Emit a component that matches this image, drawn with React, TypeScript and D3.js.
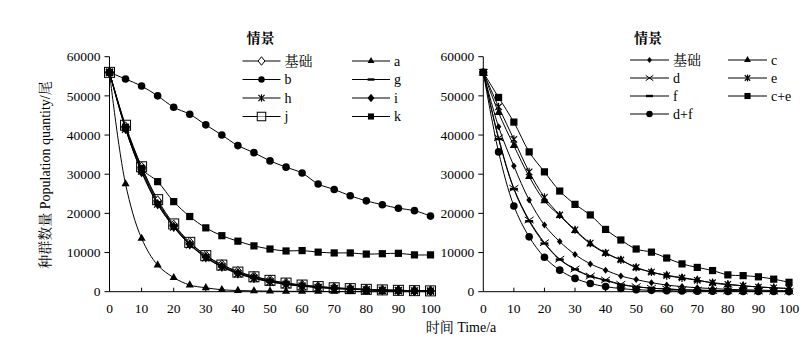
import * as d3 from 'd3';
import React from 'react';

// time points (years)
const years = [0, 5, 10, 15, 20, 25, 30, 35, 40, 45, 50, 55, 60, 65, 70, 75, 80, 85, 90, 95, 100];
const yTicks = [0, 10000, 20000, 30000, 40000, 50000, 60000];
const xTicks = [0, 10, 20, 30, 40, 50, 60, 70, 80, 90, 100];

// left panel scenarios
const baseLeft = [56000, 42100, 31800, 23200, 17000, 12600, 9300, 6900, 5200, 3900, 3000, 2200, 1700, 1300, 1000, 780, 600, 460, 350, 270, 210];
const aVals = [56000, 27500, 13600, 6800, 3600, 1700, 1000, 500, 300, 200, 150, 100, 80, 60, 50, 40, 30, 25, 20, 15, 10];
const bVals = [56000, 54300, 52500, 50000, 47100, 45300, 42600, 40000, 37300, 35500, 33400, 31800, 30300, 27500, 26100, 24500, 23200, 22200, 21300, 20700, 19300];
const gVals = [56000, 42000, 31300, 22800, 16800, 12200, 8800, 6400, 4700, 3500, 2600, 1950, 1450, 1100, 850, 650, 500, 380, 290, 220, 170];
const hVals = [56000, 41500, 30800, 22400, 16500, 12000, 8700, 6300, 4600, 3400, 2500, 1850, 1400, 1050, 800, 600, 460, 350, 270, 200, 150];
const iVals = [56000, 41600, 30500, 22300, 16600, 12100, 8900, 6500, 4800, 3600, 2700, 2000, 1500, 1150, 880, 680, 520, 400, 300, 230, 180];
const jVals = [56000, 42500, 31900, 23500, 17300, 12600, 9200, 6800, 5000, 3800, 2900, 2200, 1700, 1300, 1000, 780, 600, 460, 350, 270, 210];
const kVals = [56000, 42000, 31500, 28100, 23000, 19200, 16300, 14300, 12900, 11700, 10900, 10400, 10500, 10100, 9900, 9900, 9600, 9700, 9800, 9400, 9400];

// right panel scenarios
const baseRight = [56000, 42100, 32100, 23400, 17000, 12800, 9500, 7100, 5500, 4000, 3100, 2300, 1700, 1300, 1000, 800, 600, 500, 400, 300, 250];
const cVals = [56000, 45700, 37300, 29400, 23200, 19400, 15600, 12200, 9800, 8100, 6100, 5000, 4200, 3600, 3000, 2200, 1800, 1500, 1200, 1000, 800];
const dVals = [56000, 39300, 26400, 18300, 12500, 8300, 5800, 4000, 3000, 1900, 1300, 900, 700, 500, 400, 300, 250, 200, 150, 120, 100];
const eVals = [56000, 47200, 38900, 30600, 24100, 19600, 15800, 12400, 9900, 8100, 6200, 5000, 4100, 3500, 2900, 2300, 1900, 1500, 1200, 1000, 800];
const fVals = [56000, 39000, 26200, 18000, 12300, 8200, 5700, 3900, 2900, 1800, 1250, 880, 680, 490, 390, 290, 240, 190, 140, 110, 90];
const ceVals = [56000, 49600, 43300, 35700, 30600, 25700, 22300, 19600, 15900, 13200, 10900, 10100, 8600, 7100, 6200, 5400, 4300, 4100, 3800, 3200, 2400];
const dfVals = [56000, 35700, 21900, 14000, 8800, 5500, 3400, 2100, 1300, 800, 500, 350, 250, 180, 130, 100, 80, 60, 50, 40, 30];

type Mk = 'diamondOpen' | 'diamond' | 'circle' | 'triangle' | 'dash' | 'asterisk' | 'cross' | 'squareOpen' | 'square';
type Series = { name: string; vals: number[]; mk: Mk; size: number; z: number };

// z = drawing order (legend order stays as listed)
const leftSeries: Series[] = [
  { name: '基础', vals: baseLeft, mk: 'diamondOpen', size: 10, z: 1 },
  { name: 'a', vals: aVals, mk: 'triangle', size: 8, z: 2 },
  { name: 'b', vals: bVals, mk: 'circle', size: 8, z: 2 },
  { name: 'g', vals: gVals, mk: 'dash', size: 8, z: 3 },
  { name: 'h', vals: hVals, mk: 'asterisk', size: 9, z: 3 },
  { name: 'i', vals: iVals, mk: 'diamond', size: 10, z: 4 },
  { name: 'j', vals: jVals, mk: 'squareOpen', size: 10, z: 0 },
  { name: 'k', vals: kVals, mk: 'square', size: 8, z: 5 },
];

const rightSeries: Series[] = [
  { name: '基础', vals: baseRight, mk: 'diamond', size: 7, z: 1 },
  { name: 'c', vals: cVals, mk: 'triangle', size: 8, z: 1 },
  { name: 'd', vals: dVals, mk: 'cross', size: 9, z: 1 },
  { name: 'e', vals: eVals, mk: 'asterisk', size: 8, z: 1 },
  { name: 'f', vals: fVals, mk: 'dash', size: 8, z: 1 },
  { name: 'c+e', vals: ceVals, mk: 'square', size: 8, z: 1 },
  { name: 'd+f', vals: dfVals, mk: 'circle', size: 8, z: 1 },
];

const font = "'Liberation Serif', 'Noto Serif CJK SC', 'Noto Sans CJK SC', serif";

function Marker({ mk, x, y, s }: { mk: Mk; x: number; y: number; s: number }) {
  const h = s / 2;
  const t = `translate(${x},${y})`;
  switch (mk) {
    case 'circle':
      return <circle cx={x} cy={y} r={h * 0.95} fill="#000" />;
    case 'square':
      return <rect x={x - h * 0.9} y={y - h * 0.9} width={s * 0.9} height={s * 0.9} fill="#000" />;
    case 'squareOpen':
      return <rect x={x - h} y={y - h} width={s} height={s} fill="#fff" fillOpacity={0.6} stroke="#000" strokeWidth={1} />;
    case 'triangle':
      return <path transform={t} d={d3.symbol(d3.symbolTriangle, s * s * 0.45)()!} fill="#000" />;
    case 'diamond':
      return <path transform={t} d={`M0,${-h}L${h * 0.8},0L0,${h}L${-h * 0.8},0Z`} fill="#000" />;
    case 'diamondOpen':
      return <path transform={t} d={`M0,${-h}L${h * 0.8},0L0,${h}L${-h * 0.8},0Z`} fill="#fff" stroke="#000" strokeWidth={1} />;
    case 'dash':
      return <rect x={x - h} y={y - 1.2} width={s} height={2.4} fill="#000" />;
    case 'cross':
      return <path transform={t} d={`M${-h},${-h * 0.7}L${h},${h * 0.7}M${-h},${h * 0.7}L${h},${-h * 0.7}`} stroke="#000" strokeWidth={1} fill="none" />;
    case 'asterisk':
      return <path transform={t} d={`M${-h * 0.8},${-h * 0.8}L${h * 0.8},${h * 0.8}M${-h * 0.8},${h * 0.8}L${h * 0.8},${-h * 0.8}M0,${-h}L0,${h}`} stroke="#000" strokeWidth={1.2} fill="none" />;
  }
  return null;
}

function Panel({ series, x0, x1 }: { series: Series[]; x0: number; x1: number }) {
  const x = d3.scaleLinear().domain([0, 100]).range([x0, x1]);
  const y = d3.scaleLinear().domain([0, 60000]).range([291.7, 56.7]);
  const line = d3.line<number>()
    .x((_, i) => x(years[i]))
    .y(d => y(d))
    .curve(d3.curveCatmullRom.alpha(0.5));
  const ordered = [...series].sort((p, q) => p.z - q.z);
  return (
    <g>
      {ordered.map(s => (
        <g key={s.name}>
          <path d={line(s.vals)!} fill="none" stroke="#000" strokeWidth={1} />
          {s.vals.map((v, i) => (
            <Marker key={i} mk={s.mk} x={x(years[i])} y={y(v)} s={s.size} />
          ))}
        </g>
      ))}
      <line x1={x0} x2={x0} y1={y(0)} y2={y(60000)} stroke="#000" />
      <line x1={x0} x2={x1} y1={y(0)} y2={y(0)} stroke="#000" />
      {yTicks.map(t => (
        <g key={t}>
          <line x1={x0 - 5} x2={x0} y1={y(t)} y2={y(t)} stroke="#000" />
          <text x={x0 - 9} y={y(t)} dy="0.35em" textAnchor="end" fontSize={13.5} fontFamily={font}>{t}</text>
        </g>
      ))}
      {xTicks.map(t => (
        <g key={t}>
          {t > 0 && <line x1={x(t)} x2={x(t)} y1={y(0)} y2={y(0) - 4} stroke="#000" />}
          <text x={x(t)} y={313} textAnchor="middle" fontSize={13.5} fontFamily={font}>{t}</text>
        </g>
      ))}
    </g>
  );
}

function Legend({ series, lx, col2, rowY, len, labelGap }: { series: Series[]; lx: number; col2: number; rowY: number[]; len: number; labelGap: number }) {
  return (
    <g fontFamily={font} fontSize={14}>
      <text x={lx + 4} y={43} fontWeight="bold">情景</text>
      {series.map((s, i) => {
        const cx = i % 2 === 0 ? lx : col2;
        const cy = rowY[Math.floor(i / 2)];
        return (
          <g key={s.name}>
            <line x1={cx} x2={cx + len} y1={cy} y2={cy} stroke="#000" />
            <Marker mk={s.mk} x={cx + len / 2} y={cy} s={s.size * 0.85} />
            <text x={cx + len + labelGap} y={cy} dy="0.35em">{s.name}</text>
          </g>
        );
      })}
    </g>
  );
}

export default function App() {
  return (
    <svg width={800} height={362} style={{ position: 'absolute', left: 0, top: 0, background: '#fff' }}>
      <rect width={800} height={362} fill="#fff" />
      <Panel series={leftSeries} x0={109.5} x1={430.5} />
      <Panel series={rightSeries} x0={483.3} x1={789} />
      <Legend series={leftSeries} lx={242.5} col2={352} rowY={[61, 79.5, 98, 116.5]} len={38} labelGap={4} />
      <Legend series={rightSeries} lx={630} col2={728} rowY={[60, 78, 96, 114]} len={39} labelGap={4} />
      <text transform="translate(50,175) rotate(-90)" textAnchor="middle" fontSize={14} fontFamily={font}>种群数量 Population quantity/尾</text>
      <text x={461} y={332} textAnchor="middle" fontSize={14} fontFamily={font}>时间 Time/a</text>
    </svg>
  );
}
